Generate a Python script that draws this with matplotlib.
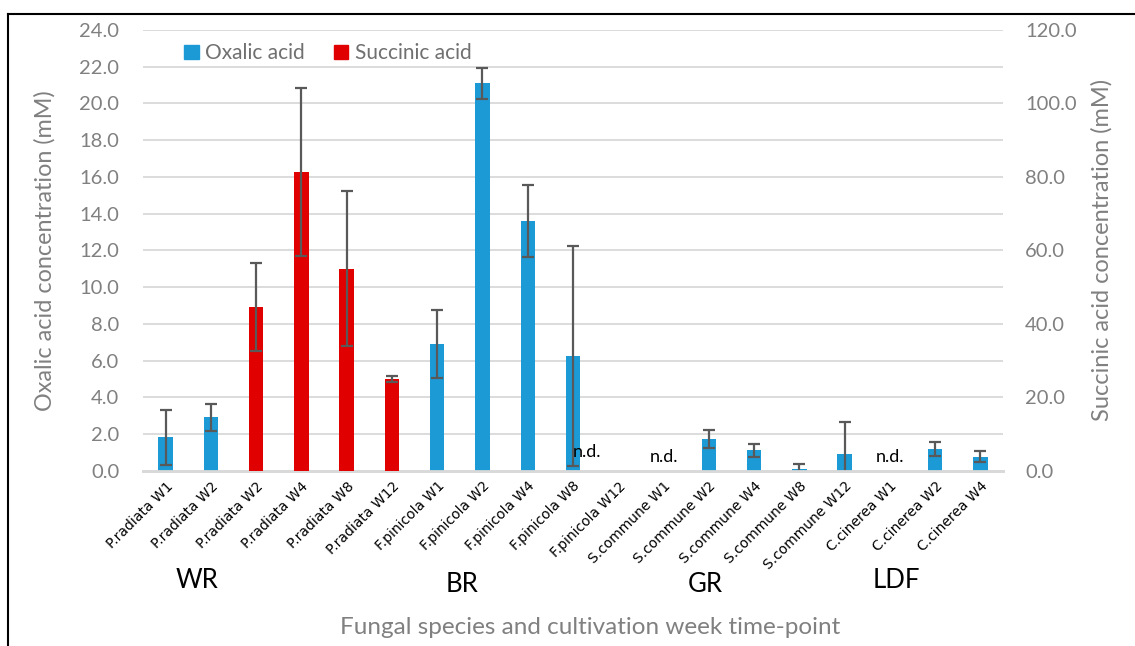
import matplotlib
matplotlib.use("Agg")
import matplotlib.pyplot as plt
import numpy as np
from matplotlib.lines import Line2D
from matplotlib.patches import Patch

categories = [
    "P.radiata W1", "P.radiata W2", "P.radiata W2", "P.radiata W4",
    "P.radiata W8", "P.radiata W12", "F.pinicola W1", "F.pinicola W2",
    "F.pinicola W4", "F.pinicola W8", "F.pinicola W12", "S.commune W1",
    "S.commune W2", "S.commune W4", "S.commune W8", "S.commune W12",
    "C.cinerea W1", "C.cinerea W2", "C.cinerea W4",
]
nan = np.nan
# oxalic acid, left axis (mM)
oxalic = [1.83, 2.9, nan, nan, nan, nan, 6.9, 21.1, 13.6, 6.25, nan, nan,
          1.7, 1.1, 0.07, 0.93, nan, 1.2, 0.75]
oxalic_err = [1.5, 0.75, nan, nan, nan, nan, 1.86, 0.85, 1.96, 5.97, nan, nan,
              0.49, 0.35, 0.27, 1.73, nan, 0.38, 0.3]
# succinic acid, right axis (mM)
succinic = [nan, nan, 44.5, 81.3, 55.0, 24.9] + [nan] * 13
succinic_err = [nan, nan, 12.0, 22.9, 21.1, 0.8] + [nan] * 13
# not detected
nd_idx = [10, 11, 16]
groups = ["WR", "BR", "GR", "LDF"]

BLUE = "#1C9AD6"
RED = "#E00000"
GREY = "#808080"
ERR = "#595959"
plt.rcParams["font.family"] = ["Lato", "DejaVu Sans"]

fig = plt.figure(figsize=(11.35, 6.46), dpi=100)
ax = fig.add_axes([0.126, 0.2714, 0.7577, 0.6822])
ax2 = ax.twinx()

x = np.arange(len(categories))
ox = np.array(oxalic)
su = np.array(succinic)
m1 = ~np.isnan(ox)
m2 = ~np.isnan(su)
w = 0.32
ekw = dict(ecolor=ERR, elinewidth=1.6, capsize=4.5, capthick=1.6)
ax.bar(x[m1], ox[m1], w, color=BLUE, yerr=np.array(oxalic_err)[m1],
       error_kw=ekw, zorder=3)
ax2.bar(x[m2], su[m2], w, color=RED, yerr=np.array(succinic_err)[m2],
        error_kw=ekw, zorder=3)

ax.set_ylim(0, 24)
ax2.set_ylim(0, 120)
ax.set_xlim(-0.5, len(categories) - 0.5)
ax.set_yticks(np.arange(0, 24.1, 2))
ax.set_yticklabels([f"{v:.1f}" for v in np.arange(0, 24.1, 2)])
ax2.set_yticks(np.arange(0, 121, 20))
ax2.set_yticklabels([f"{v:.1f}" for v in np.arange(0, 121, 20)])
ax.yaxis.grid(True, color="#D9D9D9", lw=1.3, zorder=0)
ax.set_axisbelow(True)

for a in (ax, ax2):
    for s in ("left", "right", "top"):
        a.spines[s].set_visible(False)
    a.spines["bottom"].set_color("#D9D9D9")
    a.spines["bottom"].set_linewidth(2)
    a.tick_params(axis="y", length=0, labelsize=14.5, labelcolor=GREY)
ax.tick_params(axis="y", pad=17)
ax2.tick_params(axis="y", pad=16)

ax.set_xticks(x)
ax.set_xticklabels(categories, rotation=45, ha="right", rotation_mode="anchor",
                   fontsize=10, family=["Liberation Sans Narrow", "DejaVu Sans"])
ax.tick_params(axis="x", length=0, pad=6)

ax.set_ylabel("Oxalic acid concentration (mM)", fontsize=16.8, color=GREY, labelpad=17)
ax2.set_ylabel("Succinic acid concentration (mM)", fontsize=17, color=GREY, labelpad=10)

for i in nd_idx:
    if i == 10:
        ax.text(i - 0.68, 1.04, "n.d.", ha="center", va="center", fontsize=13, zorder=5)
    else:
        ax.text(i, 0.72, "n.d.", ha="center", va="center", fontsize=13, zorder=5)

handles = [Patch(color=BLUE, label="Oxalic acid"), Patch(color=RED, label="Succinic acid")]
leg = ax.legend(handles=handles, loc="upper left", bbox_to_anchor=(0.026, 1.012),
                ncol=2, frameon=False, fontsize=15, handlelength=0.7,
                handleheight=0.7, handletextpad=0.3, columnspacing=1.4)
for t in leg.get_texts():
    t.set_color("#707070")

# group labels
for name, gx, gy in zip(groups, [197, 462, 705, 896], [580, 585, 585, 580]):
    fig.text(gx / 1135, 1 - gy / 646, name, ha="center", va="center", fontsize=18.5)
fig.text(590 / 1135, 1 - 628 / 646, "Fungal species and cultivation week time-point",
         ha="center", va="center", fontsize=17.5, color=GREY)

# outer frame (left and top edges)
fig.add_artist(Line2D([8.3 / 1135, 8.3 / 1135], [0, 1 - 14 / 646],
                      transform=fig.transFigure, color="black", lw=1.5))
fig.add_artist(Line2D([8.3 / 1135, 1], [1 - 14 / 646, 1 - 14 / 646],
                      transform=fig.transFigure, color="black", lw=1.5))

fig.savefig("out.png", dpi=100)
